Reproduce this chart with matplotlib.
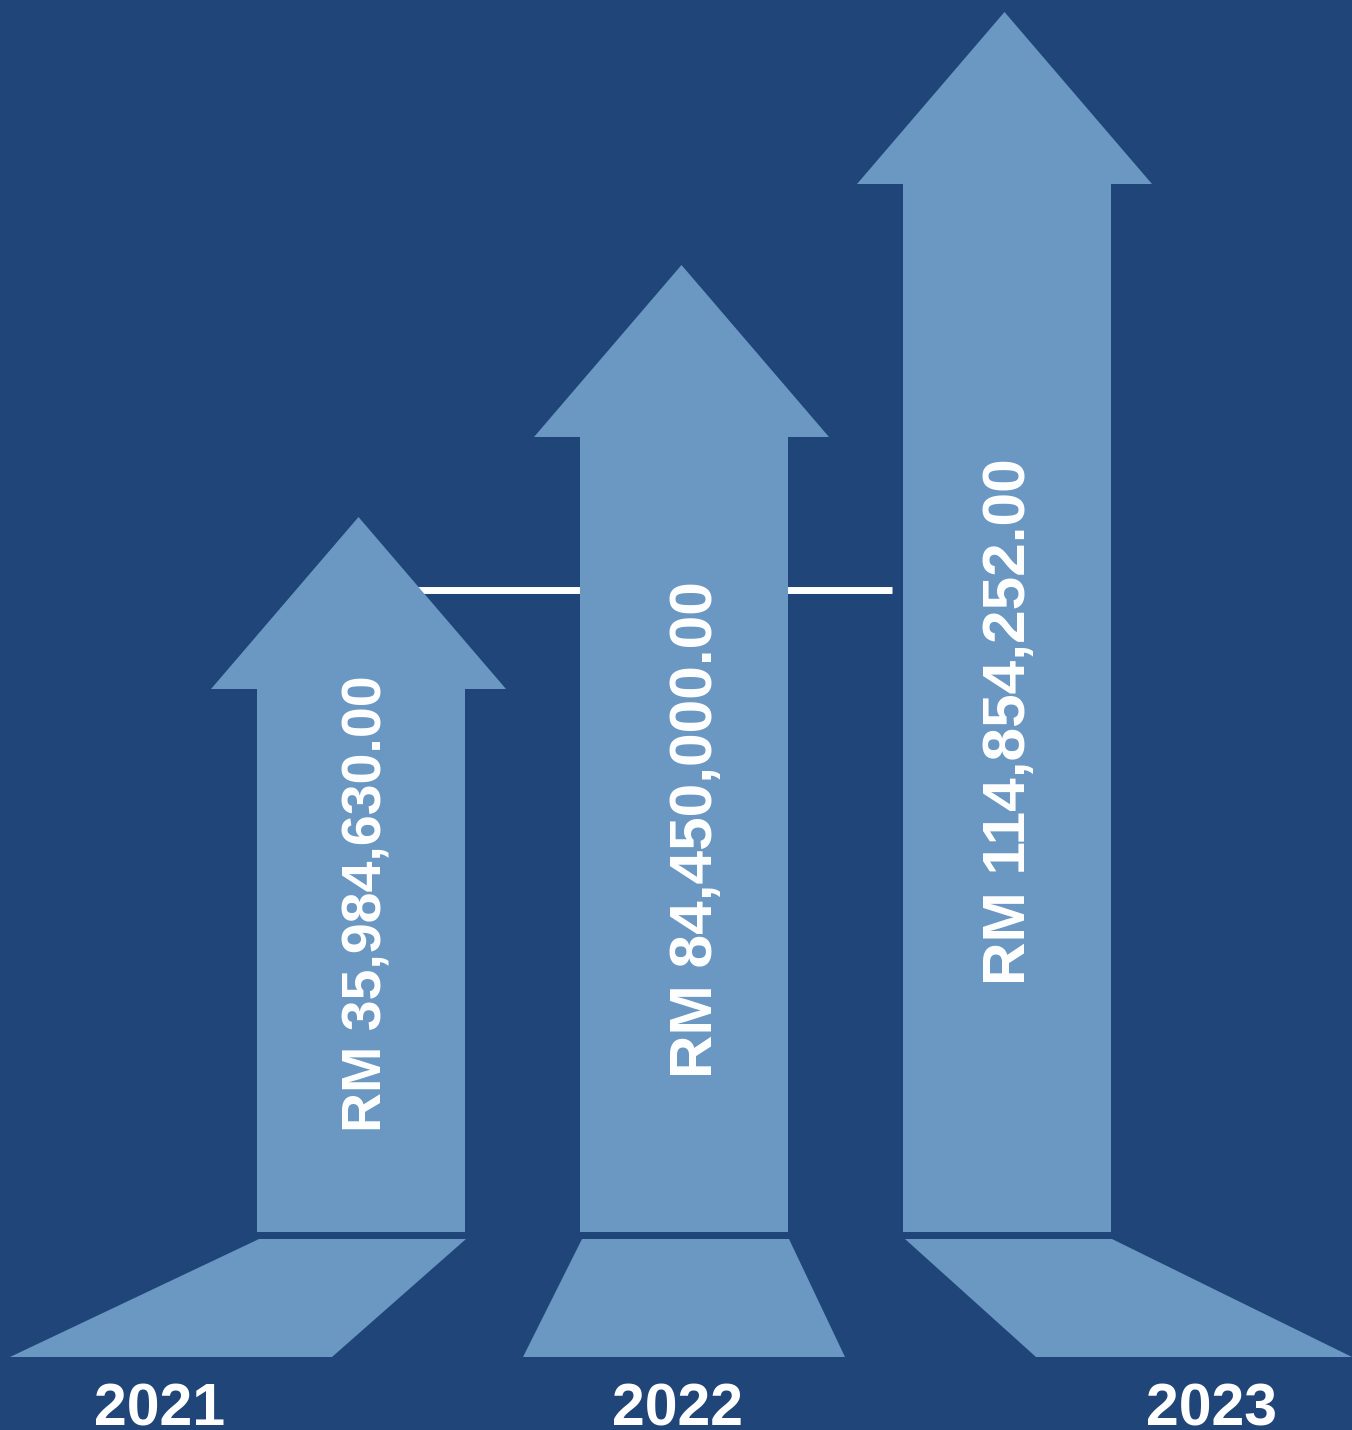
import matplotlib.pyplot as plt
from matplotlib.patches import Polygon

# Data
years = ['2021', '2022', '2023']
amounts = ['RM 35,984,630.00', 'RM 84,450,000.00', 'RM 114,854,252.00']

# Layout (pixel space, y grows downward)
W, H = 1352, 1430
shaft_cx = [361, 684, 1007]
arrow_height = [715, 967, 1220]      # tip height above the shaft base
shaft_w, head_w, head_h = 208, 295, 172
head_shift = -2.5
base_y = 1232
shadow_top, shadow_bot = 1239, 1357
shadow_bottom_x = [(10, 332), (523, 845), (1036, 1352)]
label_pos = [(382, 903.5), (712, 830), (1025, 721.5)]
label_size = [40, 43.5, 43.5]
year_x = [160, 677, 1211]

bg = '#1F4579'
arrow_c = '#6A98C2'

fig = plt.figure(figsize=(W / 100, H / 100), dpi=100)
fig.patch.set_facecolor(bg)
ax = fig.add_axes([0, 0, 1, 1])
ax.set_xlim(0, W)
ax.set_ylim(H, 0)
ax.axis('off')

# connecting white line behind the arrows
ax.plot([shaft_cx[0], 892], [590, 590], color='white', lw=5, solid_capstyle='butt', zorder=1)

for i, cx in enumerate(shaft_cx):
    tip = base_y - arrow_height[i]
    neck = tip + head_h
    hx = cx + head_shift
    pts = [
        (cx - shaft_w / 2, base_y), (cx - shaft_w / 2, neck),
        (hx - head_w / 2, neck), (hx, tip), (hx + head_w / 2, neck),
        (cx + shaft_w / 2, neck), (cx + shaft_w / 2, base_y),
    ]
    ax.add_patch(Polygon(pts, closed=True, facecolor=arrow_c, edgecolor='none', zorder=2))

    bl, br = shadow_bottom_x[i]
    sh = [(cx - shaft_w / 2 + 2, shadow_top), (cx + shaft_w / 2 + 1, shadow_top),
          (br, shadow_bot), (bl, shadow_bot)]
    ax.add_patch(Polygon(sh, closed=True, facecolor=arrow_c, edgecolor='none', zorder=2))

    lx, ly = label_pos[i]
    ax.text(lx, ly, amounts[i], rotation=90, rotation_mode='anchor',
            ha='center', va='baseline', color='white', fontsize=label_size[i],
            fontweight='bold', family='Liberation Sans', zorder=3)

    ax.text(year_x[i], 1426, years[i], ha='center', va='baseline', color='white',
            fontsize=42.5, fontweight='bold', family='Liberation Sans', zorder=3)

fig.savefig('out.png', dpi=100, facecolor=bg)
